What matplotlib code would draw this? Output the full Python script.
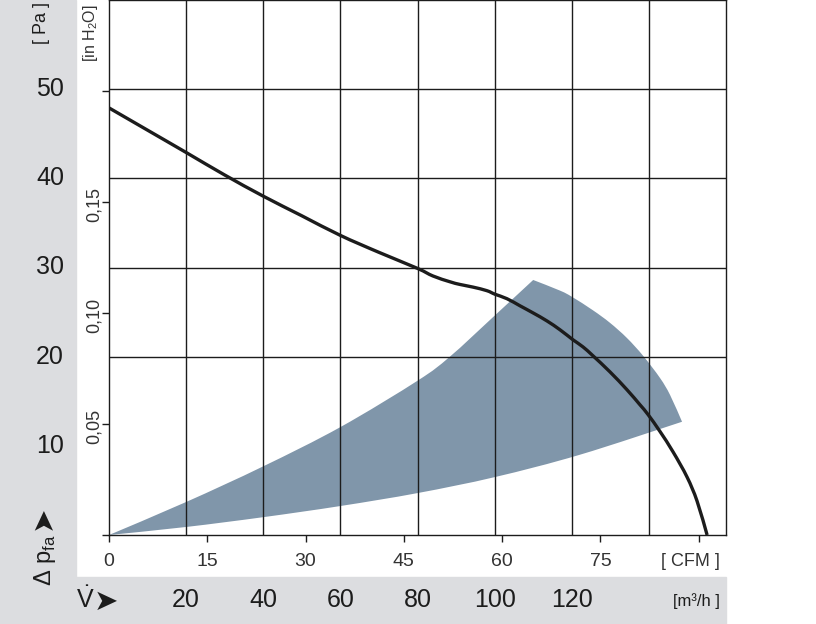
import matplotlib
matplotlib.use('Agg')
import matplotlib.pyplot as plt
from matplotlib.patches import Rectangle, PathPatch
from matplotlib.path import Path
from matplotlib.transforms import blended_transform_factory as blend

#fan curve, flow in m3/h and pressure in Pa
flow = [0, 10, 20, 29.9, 40, 50, 60, 70, 80, 84, 88.4, 91, 94.4, 98, 100.1,
        103.2, 106.6, 110, 113.6, 117, 120.3, 122.9, 125.5, 129.9, 134.3, 137.7, 139.8,
        142.9, 146.3, 149.9, 152.5, 155.1]
pressure = [47.9, 45.4, 42.9, 40.4, 38.0, 35.8, 33.6, 31.7, 29.9, 29.05, 28.4, 28.1, 27.8, 27.4, 27.0,
            26.5, 25.7, 24.9, 24.0, 23.0, 21.9, 21.1, 20.1, 18.3, 16.3, 14.6, 13.5,
            11.6, 9.3, 6.5, 3.8, 0.0]

#shaded operating range: upper edge, outer arc, lower edge
upper_flow = [0, 20, 40, 60, 80, 88.4, 100, 110]
upper_pa = [0, 3.7, 7.7, 12.1, 17.3, 20.0, 24.6, 28.6]
arc_flow = [110, 117, 120.1, 125.5, 129.9, 134.3, 138.5, 142.9, 145.5, 148.6]
arc_pa = [28.6, 27.4, 26.7, 25.2, 23.8, 22.1, 20.1, 17.6, 15.7, 12.7]
lower_flow = [148.6, 122.1, 100.1, 80, 60, 40, 20, 0]
lower_pa = [12.7, 9.0, 6.5, 4.7, 3.25, 2.0, 0.9, 0]

pa_ticks = [10, 20, 30, 40, 50]
pa_grid = [20, 30, 40, 50]
m3h_ticks = [20, 40, 60, 80, 100, 120]
m3h_grid = [20, 40, 60, 80, 100, 120, 140]
cfm_ticks = [0, 15, 30, 45, 60, 75, 90]
cfm_labels = ['0', '15', '30', '45', '60', '75']
inh2o_ticks = [0, 0.05, 0.10, 0.15, 0.20]
inh2o_labels = ['', '0,05', '0,10', '0,15', '']

M3H_PER_CFM = 1.699
PA_PER_INH2O = 249.09

GRAY = '#dcdde0'
BLUE = '#8096aa'
INK = '#1c1c1c'
SANS = ['Liberation Sans', 'DejaVu Sans']

plt.rcParams['font.family'] = SANS
plt.rcParams['mathtext.fontset'] = 'custom'
plt.rcParams['mathtext.rm'] = 'Liberation Sans'


def smooth(xs, ys):
    #catmull-rom through the read points, as bezier segments
    pts = list(zip(xs, ys))
    ext = [pts[0]] + pts + [pts[-1]]
    verts = [pts[0]]
    for i in range(1, len(ext) - 2):
        p0, p1, p2, p3 = ext[i - 1], ext[i], ext[i + 1], ext[i + 2]
        c1 = (p1[0] + (p2[0] - p0[0]) / 6, p1[1] + (p2[1] - p0[1]) / 6)
        c2 = (p2[0] - (p3[0] - p1[0]) / 6, p2[1] - (p3[1] - p1[1]) / 6)
        verts += [c1, c2, p2]
    return verts


W, H = 816, 624
fig = plt.figure(figsize=(W / 100, H / 100), dpi=100)

#gray bands left and bottom
fig.patches.append(Rectangle((0, 0), 76 / W, 1, transform=fig.transFigure, color=GRAY, zorder=-2))
fig.patches.append(Rectangle((0, 0), 726 / W, 47 / H, transform=fig.transFigure, color=GRAY, zorder=-2))

ax = fig.add_axes([109 / W, (H - 535) / H, 617 / W, 535 / H])
ax.set_xlim(0, 160)
ax.set_ylim(0, 60)

#grid on minor ticks (m3/h and Pa), major ticks are CFM and inH2O
ax.set_xticks(m3h_grid, minor=True)
ax.set_yticks(pa_grid, minor=True)
ax.grid(which='minor', color=INK, linewidth=1.0)
ax.tick_params(which='minor', length=0)
ax.set_xticks([c * M3H_PER_CFM for c in cfm_ticks], labels=[])
ax.set_yticks([i * PA_PER_INH2O for i in inh2o_ticks], labels=[])
ax.tick_params(which='major', length=5, width=1.0, color=INK, direction='out')
for s in ax.spines.values():
    s.set_color(INK)
    s.set_linewidth(1.0)

#shaded region
verts = smooth(upper_flow, upper_pa)
verts += smooth(arc_flow, arc_pa)[1:]
verts += smooth(lower_flow, lower_pa)[1:]
codes = [Path.MOVETO] + [Path.CURVE4] * (len(verts) - 1)
ax.add_patch(PathPatch(Path(verts, codes), facecolor=BLUE, edgecolor='none', zorder=1))

#fan curve
verts = smooth(flow, pressure)
codes = [Path.MOVETO] + [Path.CURVE4] * (len(verts) - 1)
ax.add_patch(PathPatch(Path(verts, codes), facecolor='none', edgecolor=INK,
                       linewidth=2.4, zorder=3))

#Pa labels in left band
tr_y = blend(fig.transFigure, ax.transData)
for p in pa_ticks:
    ax.text(50 / W, p, str(p), transform=tr_y, ha='center', va='center',
            fontsize=18, color=INK)

#inH2O labels, rotated
for v, lab in zip(inh2o_ticks, inh2o_labels):
    if lab:
        ax.text(103 / W, v * PA_PER_INH2O - 0.3, lab, transform=tr_y, ha='right', va='center',
                rotation=90, fontsize=13, color='#333333')

#CFM labels under the axis
tr_x = blend(ax.transData, fig.transFigure)
for c, lab in zip(cfm_ticks, cfm_labels):
    ax.text(c * M3H_PER_CFM, 1 - 562 / H, lab, transform=tr_x, ha='center', va='center',
            fontsize=14, color='#333333')
fig.text(690 / W, 1 - 562 / H, '[ CFM ]', ha='center', va='center', fontsize=13,
         color='#333333')

#m3/h labels in bottom band
for q in m3h_ticks:
    ax.text(q, 1 - 600 / H, str(q), transform=tr_x, ha='center', va='center',
            fontsize=18, color=INK)
fig.text(696 / W, 1 - 601 / H, '[m³/h ]', ha='center', va='center', fontsize=12,
         color=INK)

#axis titles
fig.text(41 / W, 1 - 23 / H, '[ Pa ]', ha='center', va='center', rotation=90,
         fontsize=13, color=INK)
fig.text(91 / W, 1 - 33 / H, '[in H$_2$O]', ha='center', va='center', rotation=90,
         fontsize=11.5, color='#333333')
fig.text(45 / W, 1 - 560 / H, 'Δ p$_{\\mathrm{fa}}$', ha='center', va='center', rotation=90,
         fontsize=17, color=INK)
fig.text(43 / W, 1 - 518 / H, '➤', ha='center', va='center', rotation=90,
         fontsize=21, family=['DejaVu Sans'], color=INK)
fig.text(85 / W, 1 - 600 / H, '$\\dot{\\mathrm{V}}$', ha='center', va='center',
         fontsize=18, color=INK)
fig.text(106 / W, 1 - 602 / H, '➤', ha='center', va='center',
         fontsize=21, family=['DejaVu Sans'], color=INK)

fig.savefig('out.png', dpi=100)
